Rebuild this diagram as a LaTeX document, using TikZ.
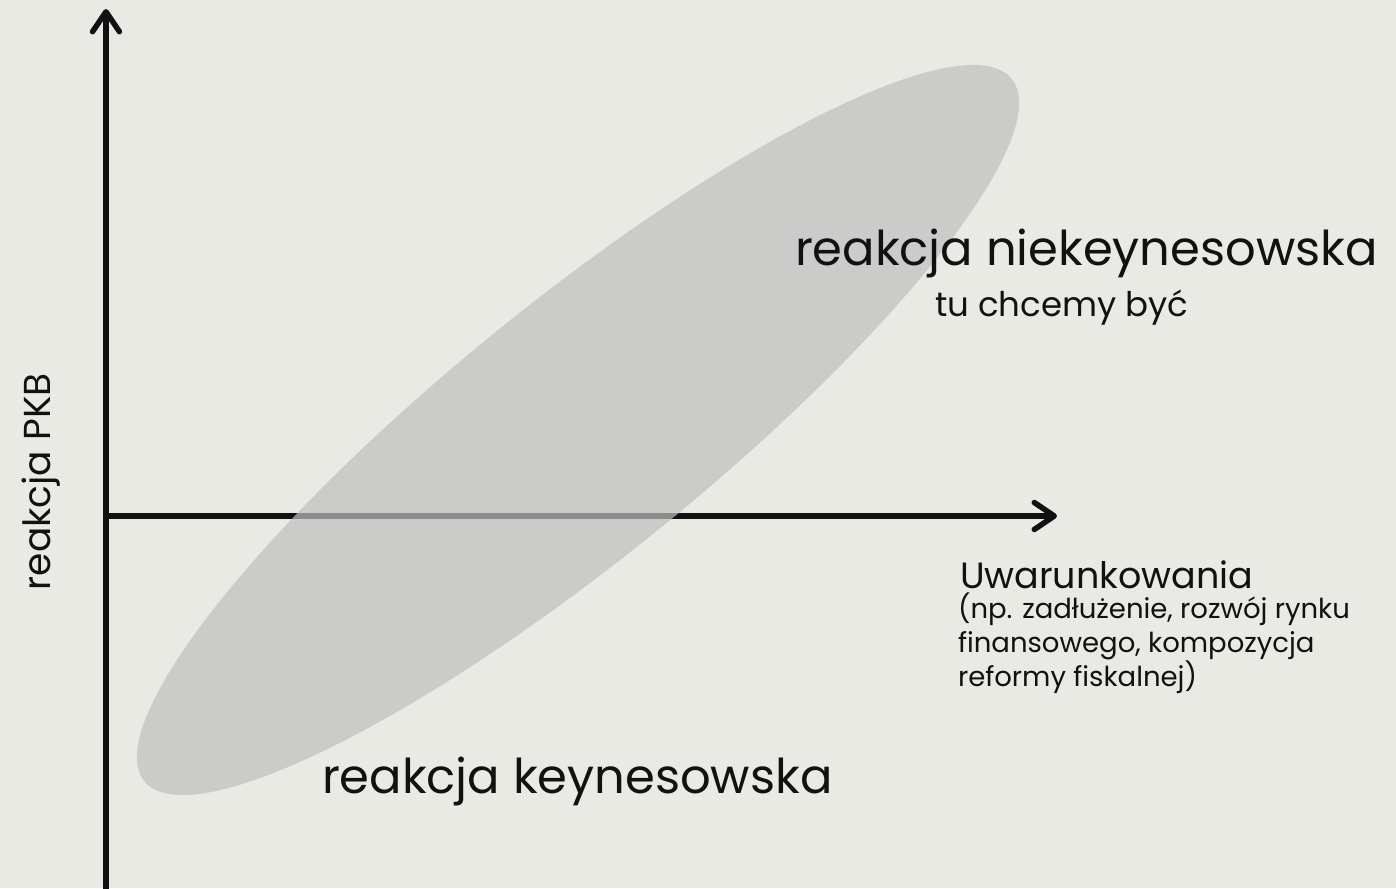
\documentclass[tikz,border=0pt]{standalone}
\usepackage{fontspec}
\setmainfont{Poppins}
\usetikzlibrary{arrows.meta}
\definecolor{bg}{RGB}{233,234,228}
\definecolor{ellfill}{RGB}{192,192,192}
\definecolor{ink}{RGB}{17,17,17}
\tikzset{
  axisline/.style={line width=5.5pt, draw=ink, -{Straight Barb[round,length=20pt,width=27pt]}},
  lbl/.style={inner sep=0pt, outer sep=0pt, anchor=base west, text=ink},
  big/.style={lbl, font=\fontsize{48}{54}\selectfont},
  mid/.style={lbl, font=\fontsize{34}{40}\selectfont},
  small/.style={lbl, font=\fontsize{27.5}{33}\selectfont},
}
\begin{document}
\begin{tikzpicture}[x=1pt,y=-1pt]
\fill[bg] (0,0) rectangle (1396,888);
\useasboundingbox (0,0) rectangle (1396,888);
\coordinate (ybot) at (106,900);
\coordinate (ytip) at (106,9);
\coordinate (O) at (106,516);
\coordinate (xtip) at (1057,516);
\draw[axisline] (ybot) -- (ytip);
\draw[axisline] (O) -- (xtip);
\fill[ellfill, fill opacity=0.71, rotate around={39:(578,430)}] (578,430) ellipse [x radius=558, y radius=128];
\node[big] (nk) at (795,265) {reakcja niekeynesowska};
\node[mid] (tu) at (935,316) {tu chcemy być};
\node[big] (k) at (322,793) {reakcja keynesowska};
\node[mid, font=\fontsize{36.5}{42}\selectfont] (uw) at (960,588) {Uwarunkowania};
\node[small] (u1) at (958,618) {(np. zadłużenie, rozwój rynku};
\node[small] (u2) at (958,652) {finansowego, kompozycja};
\node[small] (u3) at (958,686) {reformy fiskalnej)};
\node[lbl, font=\fontsize{37.5}{44}\selectfont, rotate=90] (pkb) at (50,590) {reakcja PKB};
\end{tikzpicture}
\end{document}
